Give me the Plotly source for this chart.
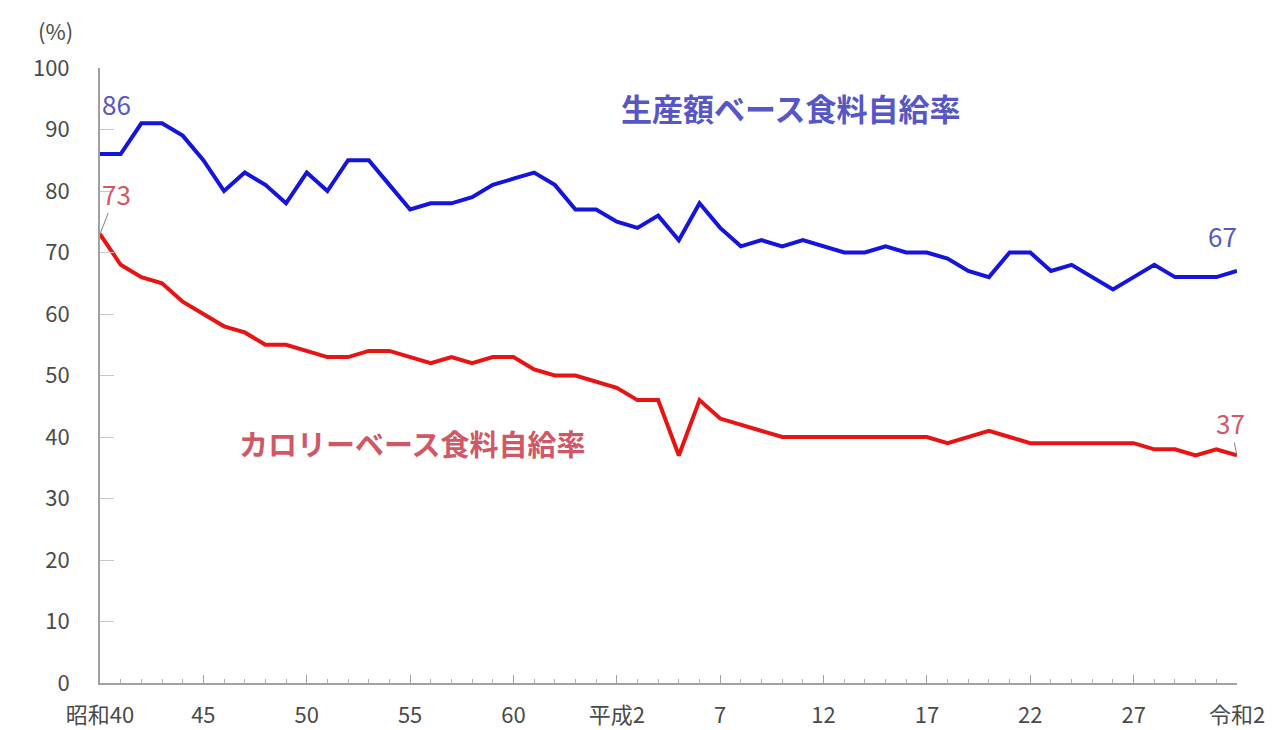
import plotly.graph_objects as go

years = list(range(1965, 2021))
production = [86, 86, 91, 91, 89, 85, 80, 83, 81, 78,
              83, 80, 85, 85, 81, 77, 78, 78, 79, 81,
              82, 83, 81, 77, 77, 75, 74, 76, 72, 78,
              74, 71, 72, 71, 72, 71, 70, 70, 71, 70,
              70, 69, 67, 66, 70, 70, 67, 68, 66, 64,
              66, 68, 66, 66, 66, 67]
calorie = [73, 68, 66, 65, 62, 60, 58, 57, 55, 55,
           54, 53, 53, 54, 54, 53, 52, 53, 52, 53,
           53, 51, 50, 50, 49, 48, 46, 46, 37, 46,
           43, 42, 41, 40, 40, 40, 40, 40, 40, 40,
           40, 39, 40, 41, 40, 39, 39, 39, 39, 39,
           39, 38, 38, 37, 38, 37]
tick_years = [1965, 1970, 1975, 1980, 1985, 1990, 1995, 2000, 2005, 2010, 2015, 2020]
tick_labels = ["昭和40", "45", "50", "55", "60", "平成2", "7", "12", "17", "22", "27", "令和2"]
y_ticks = [0, 10, 20, 30, 40, 50, 60, 70, 80, 90, 100]

FONT = "Noto Sans CJK JP"
BLUE_LINE = "#1414dc"
RED_LINE = "#e81414"
BLUE_TXT = "#5656c4"
RED_TXT = "#d05866"
TICK_TXT = "#4a4a4a"

fig = go.Figure()
fig.add_trace(go.Scatter(x=years, y=production, mode="lines",
                         line=dict(color=BLUE_LINE, width=4), showlegend=False))
fig.add_trace(go.Scatter(x=years, y=calorie, mode="lines",
                         line=dict(color=RED_LINE, width=4), showlegend=False))

fig.update_layout(
    width=1282, height=730,
    margin=dict(l=100, r=45, t=68, b=47),
    paper_bgcolor="white", plot_bgcolor="white",
    font=dict(family=FONT, color=TICK_TXT),
)
fig.update_xaxes(
    range=[1965, 2020], tickvals=tick_years, ticktext=tick_labels, automargin=False,
    showgrid=False, zeroline=False, showline=True, linecolor="#a0a0a0", linewidth=2,
    ticks="inside", ticklen=8, tickcolor="#a0a0a0", tickwidth=1,
    minor=dict(dtick=1, tick0=1965, ticks="inside", ticklen=4, tickcolor="#b0b0b0", showgrid=False),
    tickfont=dict(size=22, color=TICK_TXT, family=FONT),
    ticklabelstandoff=12,
)
fig.update_yaxes(
    range=[0, 100], tickvals=y_ticks, automargin=False,
    showgrid=False, zeroline=False, showline=True, linecolor="#a0a0a0", linewidth=2,
    ticks="inside", ticklen=14, tickcolor="#c8c8c8", tickwidth=1,
    tickfont=dict(size=22, color=TICK_TXT, family=FONT),
    ticklabelstandoff=24,
)

annotations = [
    dict(text="(%)", xref="paper", yref="paper", x=-0.039, y=1.062,
         xanchor="center", yanchor="middle", showarrow=False,
         font=dict(size=22, color=TICK_TXT, family=FONT)),
    dict(text="<b>生産額ベース食料自給率</b>", xref="paper", yref="y", x=0.607, y=93.5,
         xanchor="center", yanchor="middle", showarrow=False,
         font=dict(size=31, color=BLUE_TXT, family=FONT)),
    dict(text="<b>カロリーベース食料自給率</b>", xref="paper", yref="y", x=0.275, y=39.0,
         xanchor="center", yanchor="middle", showarrow=False,
         font=dict(size=29, color=RED_TXT, family=FONT)),
    dict(text=str(production[0]), x=years[0], y=production[0], xref="x", yref="y",
         xanchor="left", yanchor="middle", xshift=0, yshift=51, showarrow=False,
         font=dict(size=26, color=BLUE_TXT, family=FONT)),
    dict(text=str(production[-1]), x=years[-1], y=production[-1], xref="x", yref="y",
         xanchor="center", yanchor="middle", xshift=-15, yshift=35, showarrow=False,
         font=dict(size=26, color=BLUE_TXT, family=FONT)),
    dict(text=str(calorie[0]), x=years[0], y=calorie[0], xref="x", yref="y",
         ax=16, ay=-41, showarrow=True, arrowhead=0, arrowwidth=1, arrowcolor="#808080",
         font=dict(size=26, color=RED_TXT, family=FONT)),
    dict(text=str(calorie[-1]), x=years[-1], y=calorie[-1], xref="x", yref="y",
         ax=-7, ay=-33, showarrow=True, arrowhead=0, arrowwidth=1, arrowcolor="#808080",
         font=dict(size=26, color=RED_TXT, family=FONT)),
]
fig.update_layout(annotations=annotations)

fig.write_html("out.html", config={"displayModeBar": False},
               post_script="document.body.style.margin='0';document.body.style.overflow='hidden';")
